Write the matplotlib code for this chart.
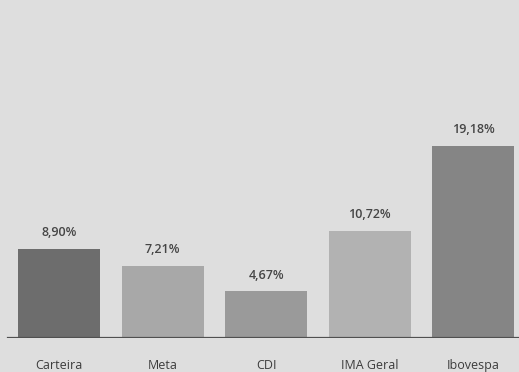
import matplotlib
matplotlib.use("Agg")
from matplotlib import pyplot as plt

categorias = ["Carteira", "Meta", "CDI", "IMA Geral", "Ibovespa"]
rentab = [8.90, 7.21, 4.67, 10.72, 19.18]
rotulos = ["8,90%", "7,21%", "4,67%", "10,72%", "19,18%"]
cores = ["#6d6d6d", "#a8a8a8", "#9a9a9a", "#b2b2b2", "#858585"]

plt.rcParams['font.family'] = ['Open Sans', 'DejaVu Sans']

fig = plt.figure(figsize=(5.19, 3.72), dpi=100)
fig.patch.set_facecolor("#dedede")

# eixo ocupa a largura toda, base das barras a 34 px do fundo
ax = fig.add_axes([0, 34/372, 1, 338/372])
ax.set_facecolor("#dedede")

x = list(range(len(categorias)))
ax.bar(x, rentab, width=0.79, color=cores, zorder=2)

ax.set_xlim(-0.57, 4.44)
ax.set_ylim(0, 33.8)

# linha de base
ax.axhline(0, xmin=0.015, xmax=1, color="#505050", lw=1.6, zorder=3)

for xi, v, r in zip(x, rentab, rotulos):
    ax.annotate(r, (xi, v), xytext=(0, 7), textcoords="offset points",
                ha="center", va="bottom", fontsize=9, fontweight="semibold",
                color="#454545")

ax.set_xticks(x)
ax.set_xticklabels(categorias, fontsize=9, color="#3c3c3c")
ax.tick_params(axis="x", length=0, pad=15)
ax.set_yticks([])
for s in ax.spines.values():
    s.set_visible(False)

fig.savefig("out.png", dpi=100, facecolor=fig.get_facecolor())
